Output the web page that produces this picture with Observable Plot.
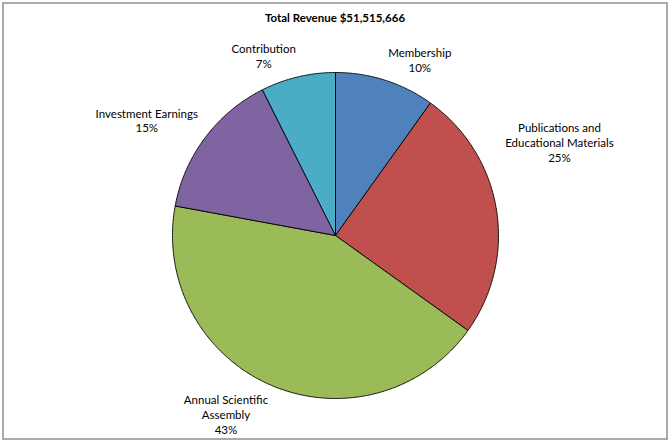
<!DOCTYPE html>
<html><head><meta charset="utf-8">
<script src="https://cdn.jsdelivr.net/npm/d3@7"></script>
<script src="https://cdn.jsdelivr.net/npm/@observablehq/plot@0.6"></script>
<style>html,body{margin:0;padding:0;background:#fff}</style>
</head><body><div id="chart"></div>
<script>
// ---- data ----
const title = "Total Revenue $51,515,666";
const categories = ["Membership", "Publications and Educational Materials", "Annual Scientific Assembly", "Investment Earnings", "Contribution"];
const labelLines = [["Membership"], ["Publications and", "Educational Materials"], ["Annual Scientific", "Assembly"], ["Investment Earnings"], ["Contribution"]];
const shares = [9.9, 25.0, 43.0, 14.7, 7.4];
const colors = ["#4F81BD", "#C0504D", "#9BBB59", "#8064A2", "#4BACC6"];

// ---- layout ----
const W = 669, H = 441, cx = 335, cy = 235, R = 163;
const fontSize = 11.5, fontFamily = "Lato, 'Open Sans', sans-serif";
const labelGap = 9; // px beyond the rim
const labelShiftY = {"Publications and Educational Materials": -46};

const rows = categories.map((c, i) => ({cat: c, share: shares[i], lines: labelLines[i]}));
const arcs = d3.pie().sort(null).value(d => d.share).startAngle(0).endAngle(2 * Math.PI)(rows);

// slice outlines in unit coordinates (y up)
const pts = [];
for (const a of arcs) {
  const cat = a.data.cat;
  pts.push({cat, x: 0, y: 0});
  const n = Math.max(2, Math.ceil((a.endAngle - a.startAngle) / (Math.PI / 360)));
  for (let k = 0; k <= n; k++) {
    const t = a.startAngle + (a.endAngle - a.startAngle) * k / n;
    pts.push({cat, x: Math.sin(t), y: Math.cos(t)});
  }
  pts.push({cat, x: 0, y: 0});
}

// label placement
const ctx = document.createElement("canvas").getContext("2d");
ctx.font = `${fontSize}px Lato`;
const labels = arcs.map(a => {
  const m = (a.startAngle + a.endAngle) / 2;
  const s = Math.sin(m), c = Math.cos(m);
  const text = [...a.data.lines, Math.round(a.data.share) + "%"];
  const w = d3.max(text, t => ctx.measureText(t).width);
  const rr = (R + labelGap) / R;
  const px = s * rr + Math.sign(s) * (w / 2) / R;
  const py = c * rr - (labelShiftY[a.data.cat] || 0) / R;
  return {text: text.join("\n"), x: px, y: py, top: c > 0};
});

const chart = Plot.plot({
  width: W, height: H,
  margin: 0,
  x: {domain: [-cx / R, (W - cx) / R], axis: null},
  y: {domain: [-(H - cy) / R, cy / R], axis: null},
  color: {domain: categories, range: colors},
  style: {fontFamily, fontSize: fontSize + "px", color: "#000", background: "#fff"},
  marks: [
    Plot.frame({stroke: "#aaaaaa", strokeWidth: 2, inset: 2.5}),
    Plot.line(pts, {x: "x", y: "y", z: "cat", fill: "cat", stroke: "#000", strokeWidth: 0.9, strokeLinejoin: "round", curve: "linear"}),
    Plot.text(labels.filter(d => d.top), {x: "x", y: "y", text: "text", lineAnchor: "bottom", lineHeight: 1.28, fontSize, fill: "#000"}),
    Plot.text(labels.filter(d => !d.top), {x: "x", y: "y", text: "text", lineAnchor: "top", lineHeight: 1.28, fontSize, fill: "#000"}),
    Plot.text([title], {frameAnchor: "top", dy: 18, lineAnchor: "middle", fontWeight: "bold", fontSize, fill: "#000"})
  ]
});
document.getElementById("chart").appendChild(chart);
</script>
</body></html>
